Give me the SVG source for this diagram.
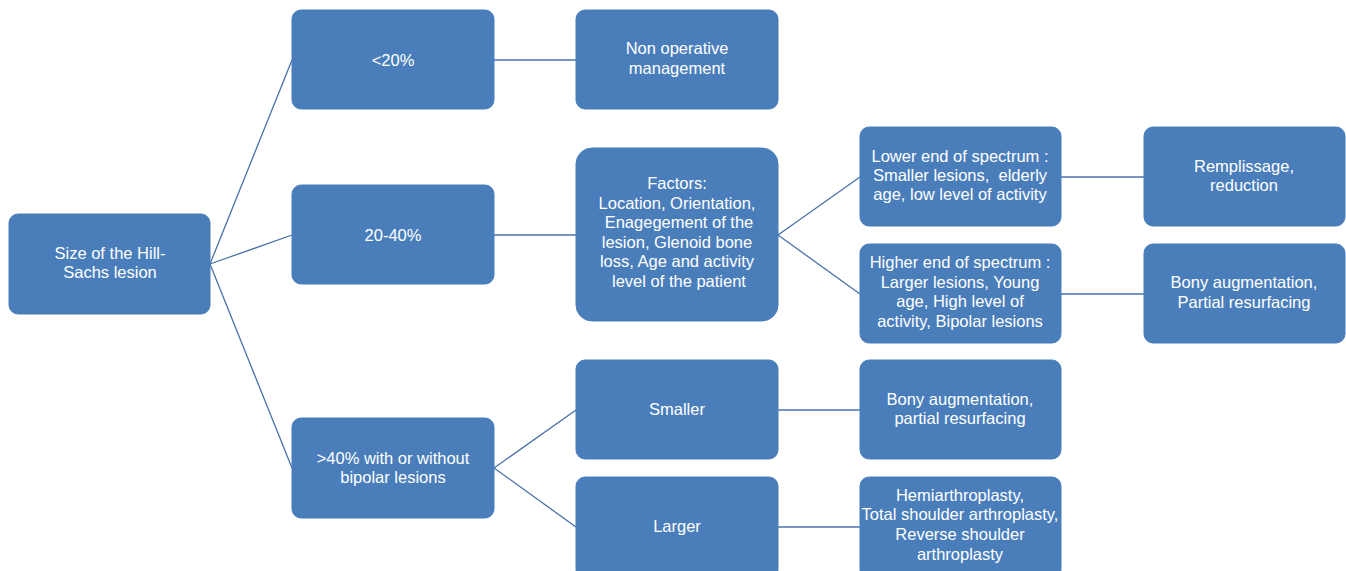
<svg xmlns="http://www.w3.org/2000/svg" width="1346" height="571" viewBox="0 0 1346 571">
<style>
.n rect{fill:#4a7ebb;stroke:#4a7ebb;stroke-width:1}
.n text{fill:#ffffff;font-family:"Liberation Sans",Arial,sans-serif;font-size:16.5px;text-anchor:middle}
#connectors line{stroke:#4a72a8;stroke-width:1.3}
</style>
<rect width="1346" height="571" fill="#ffffff"/>
<g id="connectors">
<line x1="210" y1="264" x2="292" y2="60"/>
<line x1="210" y1="264" x2="292" y2="235"/>
<line x1="210" y1="264" x2="292" y2="468"/>
<line x1="494" y1="60" x2="576" y2="60"/>
<line x1="494" y1="235" x2="576" y2="235"/>
<line x1="778" y1="235" x2="860" y2="177"/>
<line x1="778" y1="235" x2="860" y2="294"/>
<line x1="1061" y1="177" x2="1144" y2="177"/>
<line x1="1061" y1="294" x2="1144" y2="294"/>
<line x1="494" y1="468" x2="576" y2="410"/>
<line x1="494" y1="468" x2="576" y2="527"/>
<line x1="778" y1="410" x2="860" y2="410"/>
<line x1="778" y1="527" x2="860" y2="527"/>
</g>
<g id="root" class="n"><rect x="9" y="214" width="201" height="100" rx="9"/><text x="110" y="259">Size of the Hill-</text><text x="110" y="278">Sachs lesion</text></g>
<g id="lt20" class="n"><rect x="292" y="10" width="202" height="99" rx="9"/><text x="393" y="66">&lt;20%</text></g>
<g id="mid" class="n"><rect x="292" y="185" width="202" height="99" rx="9"/><text x="393" y="241">20-40%</text></g>
<g id="gt40" class="n"><rect x="292" y="418" width="202" height="100" rx="9"/><text x="393" y="464">&gt;40% with or without</text><text x="393" y="483">bipolar lesions</text></g>
<g id="nonop" class="n"><rect x="576" y="10" width="202" height="99" rx="9"/><text x="677" y="54">Non operative</text><text x="677" y="74">management</text></g>
<g id="factors" class="n"><rect x="576" y="148" width="202" height="173" rx="16"/><text x="677" y="189">Factors:</text><text x="677" y="209">Location, Orientation,</text><text x="679" y="228">Enagegement of the</text><text x="677" y="248">lesion, Glenoid bone</text><text x="677" y="267">loss, Age and activity</text><text x="679" y="287">level of the patient</text></g>
<g id="lower" class="n"><rect x="860" y="127" width="201" height="99" rx="9"/><text x="960" y="162">Lower end of spectrum :</text><text x="960" y="181">Smaller lesions, &#160;elderly</text><text x="960" y="200">age, low level of activity</text></g>
<g id="higher" class="n"><rect x="860" y="244" width="201" height="99" rx="9"/><text x="960" y="268">Higher end of spectrum :</text><text x="960" y="288">Larger lesions, Young</text><text x="960" y="307">age, High level of</text><text x="960" y="327">activity, Bipolar lesions</text></g>
<g id="rempl" class="n"><rect x="1144" y="127" width="201" height="99" rx="9"/><text x="1244" y="172">Remplissage,</text><text x="1244" y="191">reduction</text></g>
<g id="bony1" class="n"><rect x="1144" y="244" width="201" height="99" rx="9"/><text x="1244" y="288">Bony augmentation,</text><text x="1244" y="308">Partial resurfacing</text></g>
<g id="smaller" class="n"><rect x="576" y="360" width="202" height="99" rx="9"/><text x="677" y="415">Smaller</text></g>
<g id="larger" class="n"><rect x="576" y="477" width="202" height="102" rx="9"/><text x="677" y="532">Larger</text></g>
<g id="bony2" class="n"><rect x="860" y="360" width="201" height="99" rx="9"/><text x="960" y="405">Bony augmentation,</text><text x="960" y="424">partial resurfacing</text></g>
<g id="hemi" class="n"><rect x="860" y="477" width="201" height="102" rx="9"/><text x="960" y="501">Hemiarthroplasty,</text><text x="960" y="520">Total shoulder arthroplasty,</text><text x="960" y="540">Reverse shoulder</text><text x="960" y="560">arthroplasty</text></g>
</svg>
